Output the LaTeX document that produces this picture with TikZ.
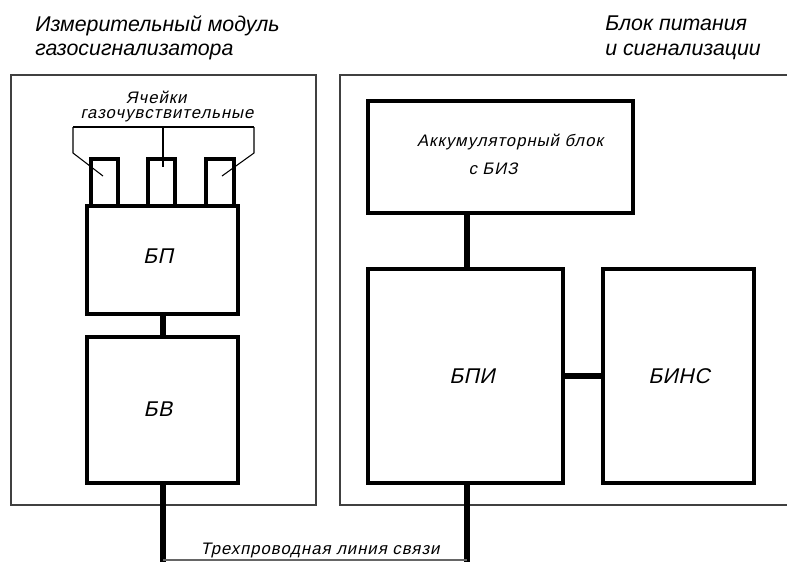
\documentclass[tikz,border=0pt]{standalone}
\usepackage{fontspec}
\setmainfont{Liberation Sans}
\newfontfamily\tech{Liberation Sans}[FakeSlant=0.22, LetterSpace=6]
\newfontfamily\techbig{Liberation Sans}[FakeSlant=0.22, LetterSpace=2]
\begin{document}
\begin{tikzpicture}[x=0.75pt,y=-0.75pt,
  blk/.style={draw=black, line width=2.3pt, minimum width=#1, inner sep=0pt},
  outer/.style={draw=black!75, line width=1pt},
  wire/.style={line width=3.8pt, black},
  lead/.style={line width=0.8pt, black},
  techtxt/.style={font=\tech\fontsize{12.5}{14}\selectfont, inner sep=0pt},
  bigtxt/.style={font=\techbig\fontsize{16}{18}\selectfont, inner sep=0pt},
  title/.style={font=\itshape\fontsize{16}{18}\selectfont, inner sep=0pt, anchor=base west}]
\useasboundingbox (0,0) rectangle (787,562);
\clip (0,0) rectangle (787,562);
% outer frames
\draw[outer] (11,75) rectangle (316,505);
\draw[outer] (340,75) rectangle (800,505);
% titles
\node[title] (t1) at (35,31) {Измерительный модуль};
\node[title] (t2) at (35,55) {газосигнализатора};
\node[title] (t3) at (605,30) {Блок питания};
\node[title] (t4) at (605,55) {и сигнализации};
% left blocks
\node[blk=151*0.75pt, minimum height=108*0.75pt] (bp) at (162.5,260) {};
\node[blk=151*0.75pt, minimum height=146*0.75pt] (bv) at (162.5,410) {};
\node[blk=27*0.75pt, minimum height=47*0.75pt] (c1) at (104.5,182.5) {};
\node[blk=27*0.75pt, minimum height=47*0.75pt] (c2) at (161.5,182.5) {};
\node[blk=28*0.75pt, minimum height=47*0.75pt] (c3) at (220,182.5) {};
\node[bigtxt] (bpt) at (158,256) {БП};
\node[bigtxt] (bvt) at (158,409) {БВ};
% right blocks
\node[blk=265*0.75pt, minimum height=112*0.75pt] (acc) at (500.5,157) {};
\node[blk=195*0.75pt, minimum height=214*0.75pt] (bpi) at (465.5,376) {};
\node[blk=151*0.75pt, minimum height=214*0.75pt] (bins) at (678.5,376) {};
\node[techtxt] (acct1) at (510,142) {Аккумуляторный блок};
\node[techtxt] (acct2) at (493,169) {с БИЗ};
\node[bigtxt] (bpit) at (472,376) {БПИ};
\node[bigtxt] (binst) at (679,376) {БИНС};
% cell labels
\node[techtxt] (lab1) at (156,97) {Ячейки};
\node[techtxt] (lab2) at (167,116) {газочувствительные};
\coordinate (la) at (73,127);
\coordinate (lb) at (254,127);
\coordinate (lm) at (163,127);
\draw[lead] (la) -- (lb);
\draw[lead] (la) -- (73,153) -- (103,176);
\draw[lead] (lb) -- (254,153) -- (222,176);
\draw[lead] (lm) -- (163,167);
% connectors
\draw[wire] (bp.south -| 163,0) -- (bv.north -| 163,0);
\draw[wire] (acc.south -| 467,0) -- (bpi.north -| 467,0);
\draw[wire] (bpi.east) -- (bins.west);
\coordinate (e1) at (163,562);
\coordinate (e2) at (467,562);
\draw[wire] (bv.south -| e1) -- (e1);
\draw[wire] (bpi.south -| e2) -- (e2);
\draw[line width=0.8pt, black!60] (163,560) -- (467,560);
\node[techtxt] (line) at (320,550) {Трехпроводная линия связи};
\end{tikzpicture}
\end{document}
